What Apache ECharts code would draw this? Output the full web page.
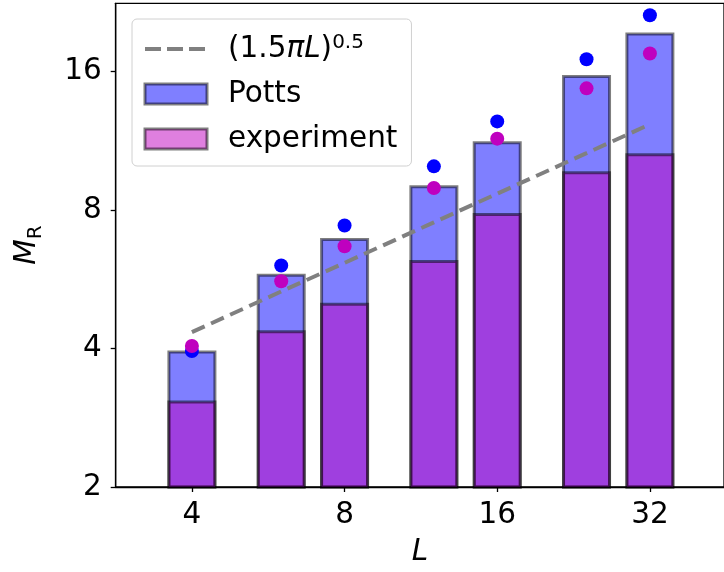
<!DOCTYPE html>
<html>
<head>
<meta charset="utf-8">
<script src="https://cdn.jsdelivr.net/npm/echarts@6/dist/echarts.min.js"></script>
<style>
  html, body { margin: 0; background: #fff; }
  #chart { width: 724px; height: 572px; }
</style>
</head>
<body>
<div id="chart"></div>
<script>
// system sizes L and the values
const sizes = [4, 6, 8, 12, 16, 24, 32];
const pottsBar = [3.93, 5.77, 6.9, 8.99, 11.2, 15.6, 19.3];
const exptBar = [3.06, 4.35, 4.99, 6.18, 7.82, 9.64, 10.55];
const pottsDot = [3.95, 6.06, 7.4, 9.95, 12.46, 17.0, 21.2];
const exptDot = [4.05, 5.6, 6.67, 8.93, 11.43, 14.7, 17.5];
const fitLine = [4.34, 5.32, 6.14, 7.52, 8.68, 10.63, 12.28];
const xTicks = [4, 8, 16, 32];
const yTicks = [2, 4, 8, 16];

const Y_MIN = 2;
const BAR_PX = 46;
const FONT = 'DejaVu Sans';
const FS = 29.5;

const pairs = (ys) => sizes.map((x, i) => [x, ys[i]]);

const barRenderer = (fill) => (params, api) => {
  const top = api.coord([api.value(0), api.value(1)]);
  const base = api.coord([api.value(0), Y_MIN]);
  return {
    type: 'rect',
    shape: { x: top[0] - BAR_PX / 2, y: top[1], width: BAR_PX, height: base[1] - top[1] },
    style: { fill: fill, stroke: 'rgba(0,0,0,0.5)', lineWidth: 3 },
  };
};

const chart = echarts.init(document.getElementById('chart'));

const legendNames = {
  fit: '(1.5{i|πL}){sup|0.5}',
  Potts: 'Potts',
  experiment: 'experiment',
};

chart.setOption({
  animation: false,
  backgroundColor: '#fff',
  grid: { left: 115.7, top: 3.3, right: -10, bottom: 84.3, show: true, borderColor: '#000', borderWidth: 1.3 },
  xAxis: {
    type: 'log',
    logBase: 2,
    min: 2.83,
    max: 44.8,
    name: 'L',
    nameLocation: 'middle',
    nameGap: 50,
    nameTextStyle: { fontFamily: FONT, fontSize: FS, fontStyle: 'italic', color: '#000' },
    axisLine: { lineStyle: { color: '#000', width: 1.3 } },
    axisTick: { customValues: xTicks, length: 5, lineStyle: { color: '#000', width: 1.3 } },
    axisLabel: { customValues: xTicks, margin: 13, fontFamily: FONT, fontSize: FS, color: '#000' },
    splitLine: { show: false },
  },
  yAxis: {
    type: 'log',
    logBase: 2,
    min: Y_MIN,
    max: 22.5,
    name: '{m|M}{r|R}',
    nameLocation: 'middle',
    nameRotate: 90,
    nameGap: 70,
    nameTextStyle: {
      rich: {
        m: { fontFamily: FONT, fontSize: FS, fontStyle: 'italic', color: '#000', lineHeight: 36 },
        r: { fontFamily: FONT, fontSize: 20, color: '#000', lineHeight: 20, verticalAlign: 'bottom' },
      },
    },
    axisLine: { lineStyle: { color: '#000', width: 1.3 } },
    axisTick: { customValues: yTicks, length: 5, lineStyle: { color: '#000', width: 1.3 } },
    axisLabel: { customValues: yTicks, margin: 14, fontFamily: FONT, fontSize: FS, color: '#000' },
    splitLine: { show: false },
  },
  legend: {
    orient: 'vertical',
    left: 132,
    top: 19,
    padding: [14, 14, 11, 11],
    itemGap: 13,
    itemWidth: 62,
    itemHeight: 20,
    backgroundColor: 'rgba(255,255,255,0.8)',
    borderColor: '#d0d0d0',
    borderWidth: 1,
    borderRadius: 5,
    formatter: (name) => legendNames[name],
    textStyle: {
      fontFamily: FONT,
      fontSize: FS,
      color: '#000',
      lineHeight: 32,
      padding: [0, 0, 0, 16],
      rich: {
        i: { fontFamily: FONT, fontSize: FS, fontStyle: 'italic', color: '#000' },
        sup: { fontFamily: FONT, fontSize: 20, color: '#000', verticalAlign: 'top', lineHeight: 32 },
      },
    },
    data: [
      { name: 'fit', itemStyle: { opacity: 0 }, lineStyle: { color: '#808080', width: 4, type: [16, 6] } },
      { name: 'Potts', icon: 'rect', itemStyle: { color: 'rgba(0,0,255,0.5)', borderColor: 'rgba(0,0,0,0.5)', borderWidth: 3 } },
      { name: 'experiment', icon: 'rect', itemStyle: { color: 'rgba(191,0,191,0.5)', borderColor: 'rgba(0,0,0,0.5)', borderWidth: 3 } },
    ],
  },
  series: [
    {
      name: 'Potts',
      type: 'custom',
      renderItem: barRenderer('rgba(0,0,255,0.5)'),
      encode: { x: 0, y: 1 },
      data: pairs(pottsBar),
      itemStyle: { color: 'rgba(0,0,255,0.5)' },
      z: 2,
    },
    {
      name: 'experiment',
      type: 'custom',
      renderItem: barRenderer('rgba(191,0,191,0.5)'),
      encode: { x: 0, y: 1 },
      data: pairs(exptBar),
      itemStyle: { color: 'rgba(191,0,191,0.5)' },
      z: 2,
    },
    {
      name: 'pottsDots',
      type: 'scatter',
      data: pairs(pottsDot),
      symbolSize: 14,
      itemStyle: { color: '#0000ff', opacity: 1 },
      z: 3,
    },
    {
      name: 'exptDots',
      type: 'scatter',
      data: pairs(exptDot),
      symbolSize: 14,
      itemStyle: { color: '#bf00bf', opacity: 1 },
      z: 3,
    },
    {
      name: 'fit',
      type: 'line',
      data: pairs(fitLine),
      symbol: 'none',
      lineStyle: { color: '#808080', width: 4, type: [14, 7] },
      itemStyle: { color: '#808080' },
      z: 4,
    },
  ],
});
</script>
</body>
</html>
